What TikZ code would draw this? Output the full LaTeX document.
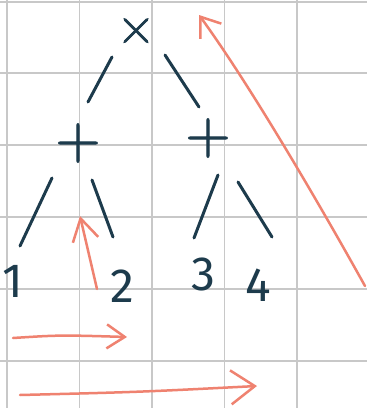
\documentclass[tikz,border=0pt]{standalone}
\usepackage{fontspec}
\setmainfont{Fira Sans}
\newfontfamily\opfont[FakeBold=1.5]{Latin Modern Roman}
\usetikzlibrary{arrows.meta}
\definecolor{inkblue}{HTML}{1D3B4C}
\definecolor{penred}{HTML}{EF8270}
\definecolor{gridgray}{HTML}{C8C8C8}

\begin{document}
\begin{tikzpicture}[x=1pt,y=-1pt,line cap=round,
    every node/.style={font=\fontsize{48}{48}\selectfont,text=inkblue,inner sep=0pt},
    opsign/.style={font=\opfont\fontsize{62}{62}\selectfont},
    treeline/.style={draw=inkblue,line width=3pt},
    redline/.style={draw=penred,line width=2.5pt}]
  \useasboundingbox[fill=white] (0,0) rectangle (367,408);
  % grid paper
  \foreach \gx in {7,79.5,152,224.5,297} \draw[gridgray,line width=1.6pt] (\gx,0) -- (\gx,408);
  \foreach \gy in {2,73,145,217,289,361} \draw[gridgray,line width=1.6pt] (0,\gy) -- (367,\gy);
  % tree
  \node[opsign,font=\opfont\fontsize{54}{54}\selectfont] (times) at (136,31) {×};
  \node[opsign] (plusL) at (78,143) {+};
  \node[opsign] (plusR) at (208,138) {+};
  \node (one) at (13,281) {1};
  \node (two) at (122,286) {2};
  \node (three) at (203,274) {3};
  \node (four) at (258,285) {4};
  \draw[treeline] ([shift={(-24,26)}]times.center) -- ([shift={(10,-41)}]plusL.center);
  \draw[treeline] ([shift={(29,24)}]times.center) -- ([shift={(-9,-31)}]plusR.center);
  \draw[treeline] ([shift={(-26,35)}]plusL.center) -- ([shift={(7,-35)}]one.center);
  \draw[treeline] ([shift={(14,37)}]plusL.center) -- ([shift={(-9,-49)}]two.center);
  \draw[treeline] ([shift={(10,37)}]plusR.center) -- ([shift={(-9,-36)}]three.center);
  \draw[treeline] ([shift={(30,44)}]plusR.center) -- ([shift={(14,-48)}]four.center);
  % traversal arrows
  \coordinate (climbstart) at (365,286);
  \coordinate (climbend) at (199,15);
  \coordinate (risestart) at (97,289);
  \coordinate (riseend) at (80,216);
  \coordinate (shortstart) at (13,338);
  \coordinate (shortend) at (127,337);
  \coordinate (longstart) at (20,395);
  \coordinate (longend) at (257,386);
  \draw[redline,-{Straight Barb[length=18pt,width=26pt]}] (climbstart) .. controls (320,205) and (250,85) .. (climbend);
  \draw[redline,-{Straight Barb[length=22pt,width=26pt]}] (risestart) -- (riseend);
  \draw[redline,-{Straight Barb[length=18pt,width=24pt]}] (shortstart) .. controls (60,335) .. (shortend);
  \draw[redline,-{Straight Barb[length=24pt,width=34pt]}] (longstart) .. controls (140,392) .. (longend);
\end{tikzpicture}
\end{document}
